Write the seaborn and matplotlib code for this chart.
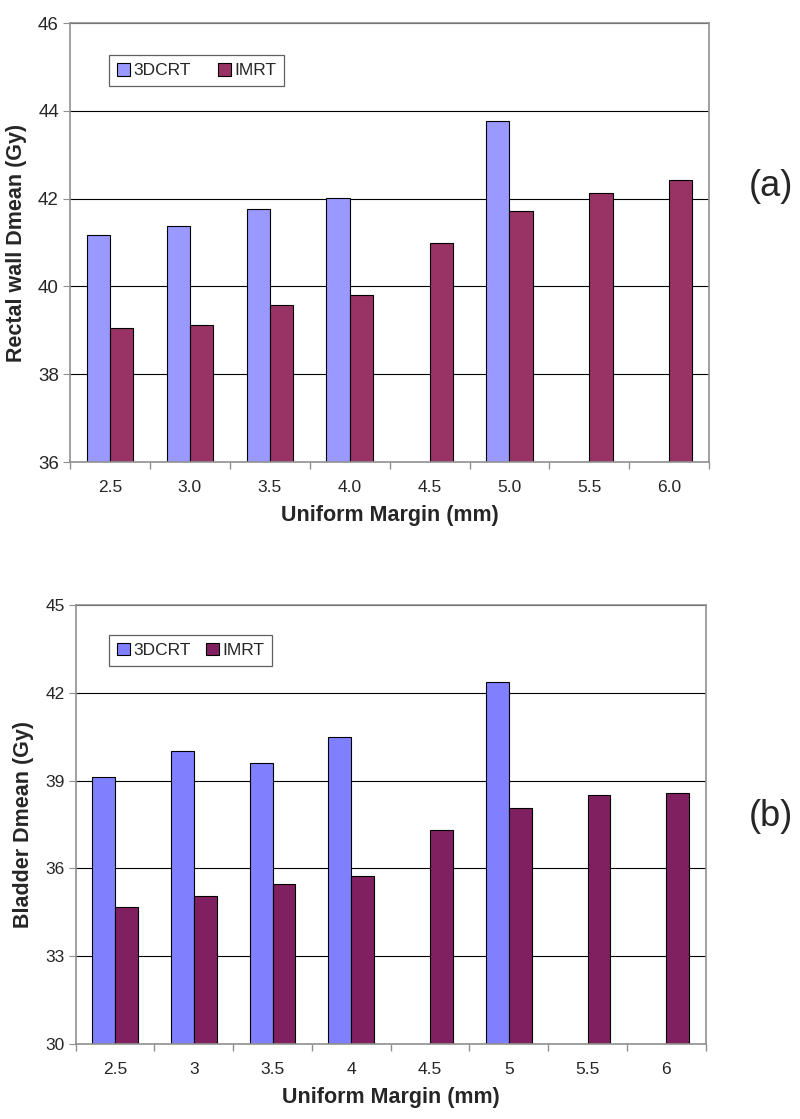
import pandas as pd
import seaborn as sns
import matplotlib.pyplot as plt
from matplotlib.ticker import FixedLocator

# values
margins_a = ["2.5", "3.0", "3.5", "4.0", "4.5", "5.0", "5.5", "6.0"]
margins_b = ["2.5", "3", "3.5", "4", "4.5", "5", "5.5", "6"]
rectal_3dcrt = [41.17, 41.37, 41.77, 42.01, None, 43.77, None, None]
rectal_imrt = [39.06, 39.13, 39.57, 39.81, 40.99, 41.72, 42.12, 42.42]
bladder_3dcrt = [39.14, 40.01, 39.61, 40.49, None, 42.36, None, None]
bladder_imrt = [34.68, 35.06, 35.47, 35.73, 37.30, 38.08, 38.50, 38.59]
series = ["3DCRT", "IMRT"]

sns.set_style("white")
plt.rcParams["font.family"] = ["Liberation Sans", "DejaVu Sans"]


def long_table(cats, a, b):
    rows = []
    for c, v1, v2 in zip(cats, a, b):
        if v1 is not None:
            rows.append({"margin": c, "plan": "3DCRT", "dose": v1})
        rows.append({"margin": c, "plan": "IMRT", "dose": v2})
    return pd.DataFrame(rows)


def draw(ax, df, cats, colors, ylim, yticks, ylabel, colspace, leg_xy, ysize):
    sns.barplot(data=df, x="margin", y="dose", hue="plan", order=cats,
                hue_order=series, palette=colors, width=0.58,
                edgecolor="black", linewidth=0.8, saturation=1, ax=ax)
    ax.set_ylim(*ylim)
    ax.set_xlim(-0.5, len(cats) - 0.5)
    ax.set_yticks(yticks)
    ax.yaxis.grid(True, color="black", linewidth=0.8)
    ax.set_axisbelow(True)
    for s in ax.spines.values():
        s.set_color("#909090")
        s.set_linewidth(1.2)
    ax.tick_params(axis="y", left=True, length=5, color="#909090",
                   labelsize=ysize, pad=3)
    ax.tick_params(axis="x", which="major", length=0, labelsize=12.5, pad=13)
    ax.xaxis.set_minor_locator(FixedLocator([i - 0.5 for i in range(len(cats) + 1)]))
    ax.tick_params(axis="x", which="minor", bottom=True, length=5,
                   color="#909090", width=1)
    ax.set_xlabel("Uniform Margin (mm)", fontsize=15.5, fontweight="bold", labelpad=7)
    ax.set_ylabel(ylabel, fontsize=15.5, fontweight="bold", labelpad=8)
    leg = ax.legend(loc="upper left", bbox_to_anchor=leg_xy, borderaxespad=0,
                    ncol=2, fontsize=12.5, fancybox=False, edgecolor="#606060",
                    handlelength=0.75, handleheight=0.75, handletextpad=0.2,
                    columnspacing=colspace, borderpad=0.45, framealpha=1)
    leg.get_frame().set_linewidth(0.9)


fig = plt.figure(figsize=(8, 11.19), dpi=100)
ax1 = fig.add_axes([0.0875, 0.5871, 0.799, 0.3923])
ax2 = fig.add_axes([0.0946, 0.0670, 0.7875, 0.3923])

draw(ax1, long_table(margins_a, rectal_3dcrt, rectal_imrt), margins_a,
     ["#9999FF", "#993366"], (36, 46), [36, 38, 40, 42, 44, 46],
     "Rectal wall Dmean (Gy)", 1.55, (0.061, 0.927), 13.5)
draw(ax2, long_table(margins_b, bladder_3dcrt, bladder_imrt), margins_b,
     ["#8080FF", "#802060"], (30, 45), [30, 33, 36, 39, 42, 45],
     "Bladder Dmean (Gy)", 0.85, (0.053, 0.932), 12.5)

fig.text(0.964, 1 - 187 / 1119, "(a)", fontsize=26, ha="center", va="center")
fig.text(0.964, 1 - 817 / 1119, "(b)", fontsize=26, ha="center", va="center")

fig.savefig("out.png", dpi=100, facecolor="white")
